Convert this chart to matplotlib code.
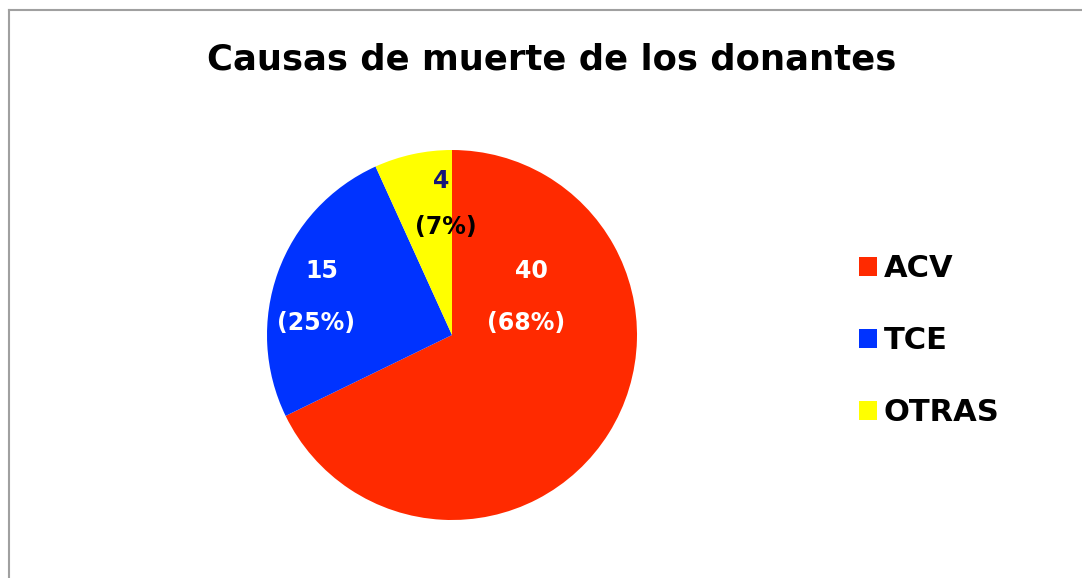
import matplotlib.pyplot as plt
from matplotlib.patches import Patch
from matplotlib.lines import Line2D

# data
causes = ["ACV", "TCE", "OTRAS"]
counts = [40, 15, 4]
percents = ["68%", "25%", "7%"]
colors = ["#ff2a00", "#0033ff", "#ffff00"]

W, H = 1082, 578
fig = plt.figure(figsize=(W / 100, H / 100), dpi=100)
ax = fig.add_axes([0, 0, 1, 1])

ax.pie(counts, colors=colors, startangle=90, counterclock=False,
       center=(452, H - 335), radius=185, frame=True,
       wedgeprops=dict(linewidth=0))
ax.set_xlim(0, W)
ax.set_ylim(0, H)
ax.set_aspect("equal")
ax.axis("off")

# value labels (placed like excel does)
lab_pos = [((531, 271), (526, 323)), ((322, 271), (316, 323)), ((441, 181), (446, 227))]
num_col = ["white", "white", "#16167a"]
pct_col = ["white", "white", "black"]
for i in range(len(counts)):
    (x1, y1), (x2, y2) = lab_pos[i]
    ax.text(x1, H - y1, str(counts[i]), ha="center", va="center",
            fontsize=17, fontweight="bold", color=num_col[i])
    ax.text(x2, H - y2, "(" + percents[i] + ")", ha="center", va="center",
            fontsize=17, fontweight="bold", color=pct_col[i])

fig.text(552 / W, 1 - 60 / H, "Causas de muerte de los donantes",
         ha="center", va="center", fontsize=25.5, fontweight="bold")

handles = [Patch(facecolor=c, edgecolor="none") for c in colors]
fig.legend(handles, causes, loc="center left",
           bbox_to_anchor=(859 / W, 1 - 340.5 / H), frameon=False,
           prop=dict(size=22, weight="bold"), borderpad=0, borderaxespad=0,
           handlelength=0.59, handleheight=0.59, handletextpad=0.22,
           labelspacing=1.41)

# chart border
fig.add_artist(Line2D([8.5 / W, 8.5 / W], [0, 1 - 9.5 / H], color="#a0a0a0", lw=1.5))
fig.add_artist(Line2D([8.5 / W, 1], [1 - 9.5 / H, 1 - 9.5 / H], color="#a0a0a0", lw=1.5))

fig.savefig("out.png", dpi=100)
